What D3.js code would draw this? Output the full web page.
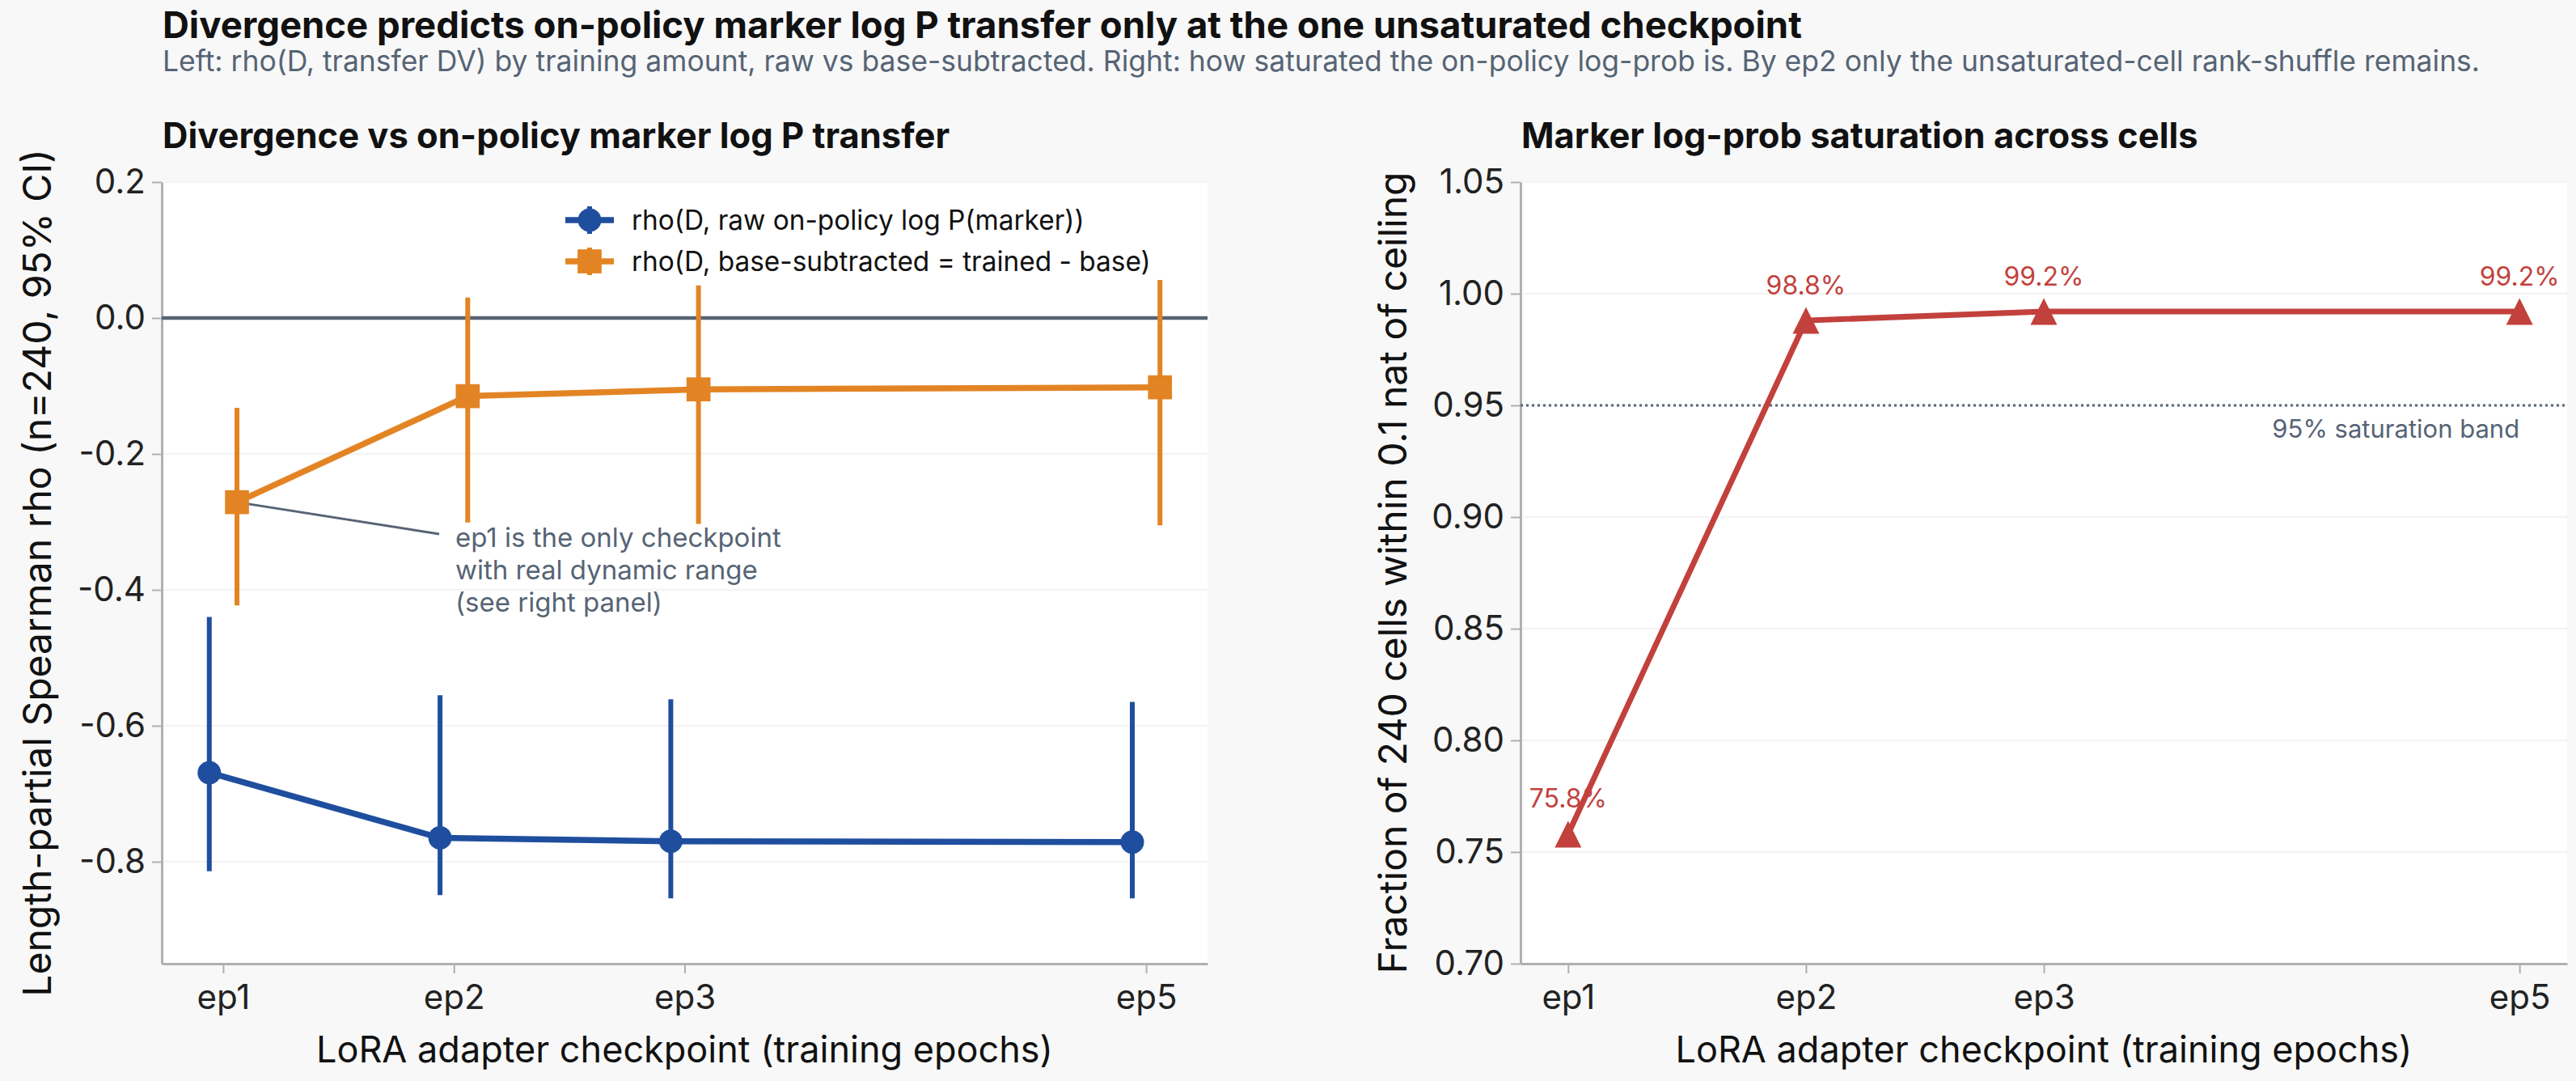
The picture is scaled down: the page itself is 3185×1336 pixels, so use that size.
<!DOCTYPE html>
<html>
<head>
<meta charset="utf-8">
<script src="https://cdn.jsdelivr.net/npm/d3@7"></script>
<style>
  body { margin: 0; background: #f8f8f8; }
  svg { display: block; font-family: Inter, "Noto Sans", sans-serif; }
</style>
</head>
<body>
<svg id="chart" width="3185" height="1336"></svg>
<script>
/* ---- data ---- */
const checkpoints = ["ep1", "ep2", "ep3", "ep5"];
const epochs = [1, 2, 3, 5];

// left panel: rho with 95% CI
const rawRho = [-0.669, -0.765, -0.770, -0.771];
const rawLo = [-0.814, -0.849, -0.854, -0.854];
const rawHi = [-0.440, -0.555, -0.561, -0.565];

const subRho = [-0.271, -0.115, -0.105, -0.102];
const subLo = [-0.423, -0.301, -0.303, -0.305];
const subHi = [-0.132, 0.030, 0.048, 0.056];

// right panel: fraction of cells within 0.1 nat of ceiling
const satFrac = [0.758, 0.988, 0.992, 0.992];
const satLabels = ["75.8%", "98.8%", "99.2%", "99.2%"];

const leftTicks = [0.2, 0.0, -0.2, -0.4, -0.6, -0.8];
const rightTicks = [1.05, 1.00, 0.95, 0.90, 0.85, 0.80, 0.75, 0.70];

/* ---- style ---- */
const blue = "#1f4e9e";
const orange = "#e38424";
const red = "#c2413d";
const slate = "#566475";
const axisGray = "#b0b0b0";
const gridColor = "#f4f4f4";
const tickFont = "42px";

const svg = d3.select("#chart");

/* titles */
svg.append("text")
    .attr("x", 201).attr("y", 47)
    .style("font-size", "45.5px").style("font-weight", "700").style("fill", "#111")
    .text("Divergence predicts on-policy marker log P transfer only at the one unsaturated checkpoint");

svg.append("text")
    .attr("x", 201).attr("y", 88)
    .style("font-size", "35.5px").style("fill", slate)
    .text("Left: rho(D, transfer DV) by training amount, raw vs base-subtracted. Right: how saturated the on-policy log-prob is. By ep2 only the unsaturated-cell rank-shuffle remains.");

const hyphenFmt = f => (d => f(d).replace("\u2212", "-"));

/* matplotlib-style triangle, centred on its bounding box */
const triangleUp = {
    draw(context, size) {
        const h = Math.sqrt(size) / 2;
        context.moveTo(0, -h);
        context.lineTo(h, h);
        context.lineTo(-h, h);
        context.closePath();
    }
};

/**
 * Builds a panel frame: white plot area, grid, axes, labels
 */
function buildPanel(opts) {
    const g = svg.append("g");
    const x = d3.scaleLinear().domain(opts.xDomain).range([opts.x0, opts.x1]);
    const y = d3.scaleLinear().domain(opts.yDomain).range([opts.y1, opts.y0]);

    g.append("rect")
        .attr("x", opts.x0).attr("y", opts.y0)
        .attr("width", opts.x1 - opts.x0).attr("height", opts.y1 - opts.y0)
        .style("fill", "#fff");

    /* grid */
    g.selectAll(".grid").data(opts.yTicks).enter()
        .append("line")
        .attr("x1", opts.x0).attr("x2", opts.x1)
        .attr("y1", d => y(d)).attr("y2", d => y(d))
        .style("stroke", gridColor).style("stroke-width", 2.5);

    /* y axis */
    const yAxis = d3.axisLeft(y).tickValues(opts.yTicks)
        .tickFormat(hyphenFmt(opts.yFormat)).tickSize(12).tickSizeOuter(0).tickPadding(8);
    const ya = g.append("g")
        .attr("transform", "translate(" + opts.x0 + ",0)")
        .call(yAxis);

    /* x axis */
    const xAxis = d3.axisBottom(x).tickValues(epochs)
        .tickFormat((d, i) => checkpoints[i]).tickSize(12).tickSizeOuter(0).tickPadding(14);
    const xa = g.append("g")
        .attr("transform", "translate(0," + opts.y1 + ")")
        .call(xAxis);

    [ya, xa].forEach(a => {
        a.select(".domain").style("stroke", axisGray).style("stroke-width", 3);
        a.selectAll(".tick line").style("stroke", axisGray).style("stroke-width", 2);
        a.selectAll(".tick text")
            .style("font-size", tickFont).style("fill", "#222")
            .style("font-family", "Inter, sans-serif");
    });

    /* panel title */
    svg.append("text")
        .attr("x", opts.x0 + 1).attr("y", 183)
        .style("font-size", "43.5px").style("font-weight", "700").style("fill", "#111")
        .text(opts.title);

    /* axis labels */
    svg.append("text")
        .attr("x", (opts.x0 + opts.x1) / 2).attr("y", 1313)
        .attr("text-anchor", "middle")
        .style("font-size", "45px").style("fill", "#111")
        .text("LoRA adapter checkpoint (training epochs)");

    svg.append("text")
        .attr("transform", "translate(" + opts.yLabelX + "," + ((opts.y0 + opts.y1) / 2) + ") rotate(-90)")
        .attr("text-anchor", "middle")
        .attr("dominant-baseline", "central")
        .style("font-size", "48px").style("fill", "#111")
        .text(opts.yLabel);

    return { g: g, x: x, y: y };
}

/* ---------------- left panel ---------------- */
const left = buildPanel({
    x0: 200, x1: 1493, y0: 225, y1: 1191,
    xDomain: [0.734, 5.266], yDomain: [-0.95, 0.2],
    yTicks: leftTicks, yFormat: d3.format(".1f"),
    title: "Divergence vs on-policy marker log P transfer",
    yLabel: "Length-partial Spearman rho (n=240, 95% CI)",
    yLabelX: 45
});

/* zero line */
left.g.append("line")
    .attr("x1", 200).attr("x2", 1493)
    .attr("y1", left.y(0)).attr("y2", left.y(0))
    .style("stroke", slate).style("stroke-width", 4.5);

/* annotation */
const annLines = ["ep1 is the only checkpoint", "with real dynamic range", "(see right panel)"];
left.g.append("line")
    .attr("x1", left.x(epochs[0] + 0.06)).attr("y1", left.y(subRho[0]))
    .attr("x2", 543).attr("y2", 660)
    .style("stroke", slate).style("stroke-width", 3);
left.g.selectAll(null).data(annLines).enter()
    .append("text")
    .attr("x", 563).attr("y", (d, i) => 676 + i * 40)
    .style("font-size", "33px").style("fill", slate)
    .text(d => d);

function drawSeries(panel, vals, lo, hi, dx, color, symbol, size) {
    const pts = epochs.map((e, i) => ({ x: e + dx, v: vals[i], lo: lo[i], hi: hi[i] }));
    panel.g.selectAll(null).data(pts).enter()
        .append("line")
        .attr("x1", d => panel.x(d.x)).attr("x2", d => panel.x(d.x))
        .attr("y1", d => panel.y(d.lo)).attr("y2", d => panel.y(d.hi))
        .style("stroke", color).style("stroke-width", 6);
    panel.g.append("path")
        .datum(pts)
        .attr("d", d3.line().x(d => panel.x(d.x)).y(d => panel.y(d.v)))
        .style("fill", "none").style("stroke", color).style("stroke-width", 7.5);
    panel.g.selectAll(null).data(pts).enter()
        .append("path")
        .attr("transform", d => "translate(" + panel.x(d.x) + "," + panel.y(d.v) + ")")
        .attr("d", d3.symbol().type(symbol).size(size))
        .style("fill", color);
}

drawSeries(left, rawRho, rawLo, rawHi, -0.06, blue, d3.symbolCircle, 660);
drawSeries(left, subRho, subLo, subHi, 0.06, orange, d3.symbolSquare, 880);

/* legend */
const legendItems = [
    { label: "rho(D, raw on-policy log P(marker))", color: blue, symbol: d3.symbolCircle, size: 660 },
    { label: "rho(D, base-subtracted = trained - base)", color: orange, symbol: d3.symbolSquare, size: 880 }
];
const leg = left.g.selectAll(".legend").data(legendItems).enter()
    .append("g")
    .attr("transform", (d, i) => "translate(729," + (272 + i * 51) + ")");
leg.append("line").attr("x1", -30).attr("x2", 30)
    .style("stroke", d => d.color).style("stroke-width", 7.5);
leg.append("line").attr("y1", -17).attr("y2", 17)
    .style("stroke", d => d.color).style("stroke-width", 6);
leg.append("path").attr("d", d => d3.symbol().type(d.symbol).size(d.size)())
    .style("fill", d => d.color);
leg.append("text").attr("x", 52).attr("dominant-baseline", "central")
    .style("font-size", "33.4px").style("fill", "#111")
    .text(d => d.label);

/* ---------------- right panel ---------------- */
const right = buildPanel({
    x0: 1880, x1: 3174, y0: 225, y1: 1191,
    xDomain: [0.8, 5.2], yDomain: [0.70, 1.05],
    yTicks: rightTicks, yFormat: d3.format(".2f"),
    title: "Marker log-prob saturation across cells",
    yLabel: "Fraction of 240 cells within 0.1 nat of ceiling",
    yLabelX: 1721
});

/* saturation band */
right.g.append("line")
    .attr("x1", 1880).attr("x2", 3174)
    .attr("y1", right.y(0.95)).attr("y2", right.y(0.95))
    .style("stroke", slate).style("stroke-width", 3)
    .style("stroke-dasharray", "3,4");
right.g.append("text")
    .attr("x", right.x(5)).attr("y", right.y(0.95) + 40)
    .attr("text-anchor", "end")
    .style("font-size", "31px").style("fill", slate)
    .text("95% saturation band");

const satPts = epochs.map((e, i) => ({ x: e, v: satFrac[i], label: satLabels[i] }));
right.g.append("path")
    .datum(satPts)
    .attr("d", d3.line().x(d => right.x(d.x)).y(d => right.y(d.v)))
    .style("fill", "none").style("stroke", red).style("stroke-width", 7);
right.g.selectAll(null).data(satPts).enter()
    .append("path")
    .attr("transform", d => "translate(" + right.x(d.x) + "," + right.y(d.v) + ")")
    .attr("d", d3.symbol().type(triangleUp).size(1089))
    .style("fill", red);
right.g.selectAll(null).data(satPts).enter()
    .append("text")
    .attr("x", d => right.x(d.x)).attr("y", d => right.y(d.v) - 44)
    .attr("text-anchor", "middle").attr("dominant-baseline", "central")
    .style("font-size", "32px").style("fill", red)
    .text(d => d.label);
</script>
</body>
</html>
